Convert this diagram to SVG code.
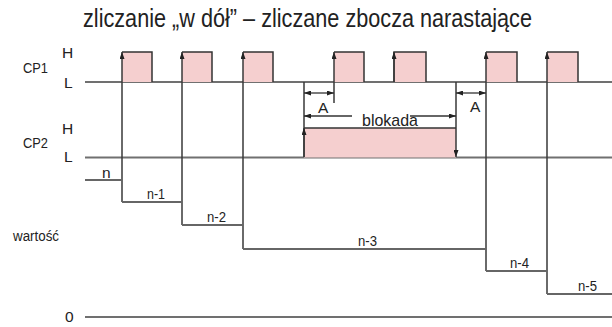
<svg xmlns="http://www.w3.org/2000/svg" width="612" height="327" viewBox="0 0 612 327">
  <style>
    text { font-family: "Liberation Sans Narrow", "Liberation Sans", Arial, sans-serif; fill: #222; }
    .lbl { font-size: 15.5px; }
    .title { font-size: 25px; }
    .axis { stroke: #707070; stroke-width: 2.2; fill: none; }
    .step { stroke: #666; stroke-width: 2.2; fill: none; }
    .edge { stroke: #383838; stroke-width: 1.5; fill: none; }
    .pulse { fill: #f5cfcf; stroke: none; }
    .pout { stroke: #333; stroke-width: 1.5; fill: none; }
    .dim { stroke: #333; stroke-width: 1.3; fill: none; }
  </style>
  <defs>
    <marker id="ah" viewBox="0 0 7 5" refX="7" refY="2.5" markerWidth="7" markerHeight="5" markerUnits="userSpaceOnUse" orient="auto-start-reverse">
      <path d="M0,0 L7,2.5 L0,5 z" fill="#222"/>
    </marker>
    <marker id="ahs" viewBox="0 0 7 5" refX="7" refY="2.5" markerWidth="7" markerHeight="5" markerUnits="userSpaceOnUse" orient="auto-start-reverse">
      <path d="M0,0 L7,2.5 L0,5 z" fill="#222"/>
    </marker>
  </defs>
  <rect width="612" height="327" fill="#fff"/>

  <text id="title" class="title" x="83" y="27" textLength="449" lengthAdjust="spacingAndGlyphs">zliczanie „w dół” – zliczane zbocza narastające</text>

  <g id="labels" class="lbl">
    <text x="23" y="73" textLength="25" lengthAdjust="spacingAndGlyphs">CP1</text>
    <text x="62" y="58">H</text>
    <text x="64" y="88">L</text>
    <text x="23" y="148" textLength="25" lengthAdjust="spacingAndGlyphs">CP2</text>
    <text x="62" y="134">H</text>
    <text x="64" y="162">L</text>
    <text x="13" y="241" textLength="46" lengthAdjust="spacingAndGlyphs">wartość</text>
    <text x="65" y="322">0</text>
  </g>

  <g id="axes">
    <line class="axis" x1="85" y1="82" x2="612" y2="82"/>
    <line class="axis" x1="85" y1="157.5" x2="612" y2="157.5"/>
    <line class="axis" x1="85" y1="317" x2="612" y2="317"/>
  </g>

  <g id="cp1-pulses">
    <g id="p1"><rect class="pulse" x="122" y="52" width="30" height="30"/><path class="pout" d="M122,52 H152 V82"/></g>
    <g id="p2"><rect class="pulse" x="182" y="52" width="30" height="30"/><path class="pout" d="M182,52 H212 V82"/></g>
    <g id="p3"><rect class="pulse" x="243" y="52" width="30" height="30"/><path class="pout" d="M243,52 H273 V82"/></g>
    <g id="p4"><rect class="pulse" x="334" y="52" width="30" height="30"/><path class="pout" d="M334,52 H364 V82"/></g>
    <g id="p5"><rect class="pulse" x="394" y="52" width="32" height="30"/><path class="pout" d="M394,82 V52 H426 V82"/></g>
    <g id="p6"><rect class="pulse" x="486" y="52" width="31" height="30"/><path class="pout" d="M486,52 H517 V82"/></g>
    <g id="p7"><rect class="pulse" x="547" y="52" width="31" height="30"/><path class="pout" d="M547,52 H578 V82"/></g>
  </g>

  <g id="blokada">
    <rect class="pulse" x="304" y="128" width="152" height="29.5"/>
    <path class="pout" d="M304,128 H456"/>
  </g>

  <g id="connectors">
    <line class="edge" x1="122" y1="202" x2="122" y2="52" marker-end="url(#ah)"/>
    <line class="edge" x1="182" y1="225" x2="182" y2="52" marker-end="url(#ah)"/>
    <line class="edge" x1="243" y1="249" x2="243" y2="52" marker-end="url(#ah)"/>
    <line class="edge" x1="334" y1="103" x2="334" y2="52" marker-end="url(#ah)"/>
    <line class="edge" x1="394" y1="82" x2="394" y2="52" marker-end="url(#ah)"/>
    <line class="edge" x1="486" y1="271" x2="486" y2="52" marker-end="url(#ah)"/>
    <line class="edge" x1="547" y1="294" x2="547" y2="52" marker-end="url(#ah)"/>
    <line class="edge" x1="304" y1="82" x2="304" y2="157"/>
    <line class="edge" x1="304" y1="157" x2="304" y2="128" marker-end="url(#ah)"/>
    <line class="edge" x1="456" y1="82" x2="456" y2="128"/>
    <line class="edge" x1="456" y1="128" x2="456" y2="157" marker-end="url(#ah)"/>
    <line class="dim" x1="304" y1="93" x2="334" y2="93" marker-start="url(#ahs)" marker-end="url(#ahs)"/>
    <line class="dim" x1="456" y1="93" x2="486" y2="93" marker-start="url(#ahs)" marker-end="url(#ahs)"/>
    <line class="dim" x1="304" y1="116" x2="352" y2="116" marker-start="url(#ahs)"/>
    <line class="dim" x1="410" y1="116" x2="456" y2="116" marker-end="url(#ahs)"/>
  </g>

  <g id="counter">
    <path class="step" d="M85,180 H122"/>
    <path class="step" d="M122,202 H182"/>
    <path class="step" d="M182,225 H243"/>
    <path class="step" d="M243,249 H486"/>
    <path class="step" d="M486,271 H547"/>
    <path class="step" d="M547,294 H612"/>
  </g>

  <g id="annotations" class="lbl">
    <text x="318" y="113">A</text>
    <text x="470" y="112">A</text>
    <text x="362" y="126" font-size="17" textLength="56" lengthAdjust="spacingAndGlyphs">blokada</text>
    <text x="102" y="178">n</text>
    <text x="147" y="199" textLength="18" lengthAdjust="spacingAndGlyphs">n-1</text>
    <text x="207" y="222" textLength="19" lengthAdjust="spacingAndGlyphs">n-2</text>
    <text x="358" y="246" textLength="19" lengthAdjust="spacingAndGlyphs">n-3</text>
    <text x="510" y="268" textLength="19" lengthAdjust="spacingAndGlyphs">n-4</text>
    <text x="578" y="291" textLength="19" lengthAdjust="spacingAndGlyphs">n-5</text>
  </g>
</svg>
